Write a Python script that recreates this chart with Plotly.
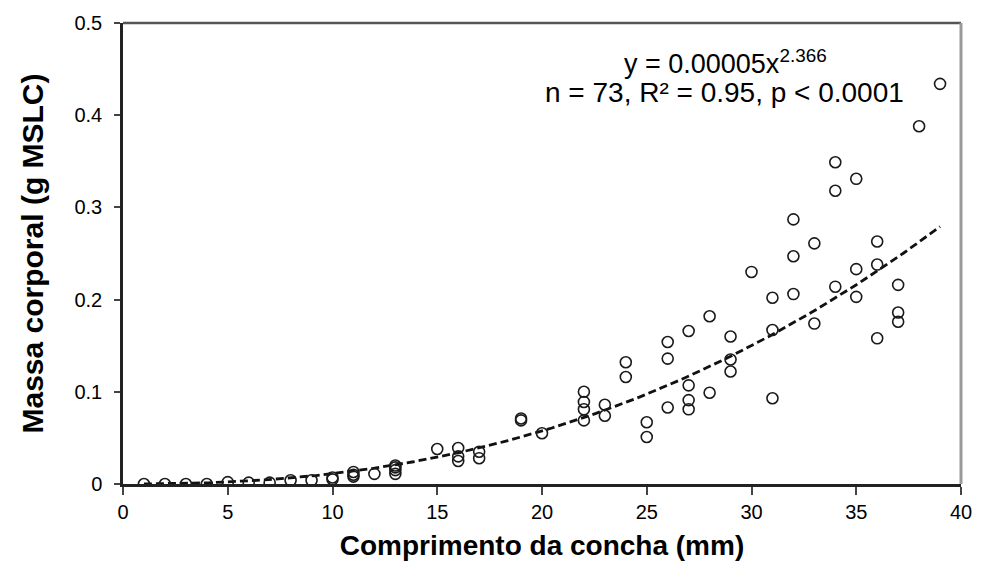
import numpy as np
import plotly.graph_objects as go

# Shell length (mm) and body mass (g MSLC)
shell_length = [1, 2, 3, 4, 5, 6, 7, 8, 9,
                10, 10, 11, 11, 11, 12, 13, 13, 13, 13,
                15, 16, 16, 16, 17, 17, 19, 19, 20,
                22, 22, 22, 22, 23, 23, 24, 24, 25, 25,
                26, 26, 26, 27, 27, 27, 27, 28, 28,
                29, 29, 29, 30, 31, 31, 31, 32, 32, 32,
                33, 33, 34, 34, 34, 35, 35, 35, 36, 36, 36,
                37, 37, 37, 38, 39]
body_mass = [0.0, 0.0, 0.0, 0.0, 0.002, 0.0015, 0.0015, 0.004, 0.004,
             0.005, 0.007, 0.008, 0.010, 0.013, 0.011, 0.011, 0.015, 0.018, 0.020,
             0.038, 0.039, 0.030, 0.025, 0.035, 0.028, 0.069, 0.071, 0.055,
             0.100, 0.089, 0.081, 0.069, 0.086, 0.074, 0.132, 0.116, 0.067, 0.051,
             0.154, 0.136, 0.083, 0.166, 0.107, 0.091, 0.081, 0.182, 0.099,
             0.160, 0.135, 0.122, 0.230, 0.202, 0.167, 0.093, 0.287, 0.247, 0.206,
             0.261, 0.174, 0.349, 0.318, 0.214, 0.331, 0.233, 0.203, 0.263, 0.238, 0.158,
             0.216, 0.186, 0.176, 0.388, 0.434]

# Power fit (displayed coefficient is rounded to 0.00005)
fit_a = 0.000048
fit_b = 2.366
fit_x = np.linspace(1, 39, 200)
fit_y = fit_a * fit_x ** fit_b

x_ticks = [0, 5, 10, 15, 20, 25, 30, 35, 40]
y_ticks = [0, 0.1, 0.2, 0.3, 0.4, 0.5]
y_tick_text = ["0", "0.1", "0.2", "0.3", "0.4", "0.5"]

FONT = "Arial, Liberation Sans, sans-serif"

fig = go.Figure()
fig.add_trace(go.Scatter(
    x=fit_x, y=fit_y, mode="lines",
    line=dict(color="#111111", width=2.8, dash="8px,4px"),
    hoverinfo="skip", showlegend=False))
fig.add_trace(go.Scatter(
    x=shell_length, y=body_mass, mode="markers",
    marker=dict(symbol="circle-open", size=11, color="#1a1a1a",
                line=dict(color="#1a1a1a", width=1.6)),
    showlegend=False))

fig.update_layout(
    width=984, height=570,
    margin=dict(l=123, r=18, t=17, b=86),
    paper_bgcolor="white", plot_bgcolor="white",
    font=dict(family=FONT, color="#000000", size=19),
    xaxis=dict(range=[0, 40], tickvals=x_ticks, ticks="outside", ticklen=8,
               tickwidth=1.5, tickcolor="#444444",
               showline=True, linecolor="#222222", linewidth=2.5,
               showgrid=False, zeroline=False,
               tickfont=dict(size=20, family=FONT),
               title=dict(text="<b>Comprimento da concha (mm)</b>",
                          font=dict(size=28, family=FONT), standoff=14)),
    yaxis=dict(range=[0, 0.5], tickvals=y_ticks, ticktext=y_tick_text,
               ticks="outside", ticklen=6, tickwidth=1.5, tickcolor="#444444",
               ticklabelstandoff=8,
               showline=True, linecolor="#222222", linewidth=2.5,
               showgrid=False, zeroline=False,
               tickfont=dict(size=20, family=FONT),
               title=dict(text="<b>Massa corporal (g MSLC)</b>",
                          font=dict(size=30, family=FONT), standoff=22)),
)

# frame: top and right borders
fig.add_shape(type="line", xref="paper", yref="paper", x0=0, x1=1, y0=1, y1=1,
              line=dict(color="#555555", width=2.5))
fig.add_shape(type="line", xref="paper", yref="paper", x0=1, x1=1, y0=0, y1=1,
              line=dict(color="#999999", width=3))

fig.add_annotation(xref="paper", yref="paper", x=0.719, y=0.916,
                   xanchor="center", yanchor="middle",
                   text="y = 0.00005x<sup>2.366</sup>", showarrow=False,
                   font=dict(size=27, family=FONT, color="#000000"))
fig.add_annotation(xref="paper", yref="paper", x=0.718, y=0.850,
                   xanchor="center", yanchor="middle",
                   text="n = 73, R² = 0.95, p < 0.0001", showarrow=False,
                   font=dict(size=28, family=FONT, color="#000000"))

fig.write_html("out.html")
